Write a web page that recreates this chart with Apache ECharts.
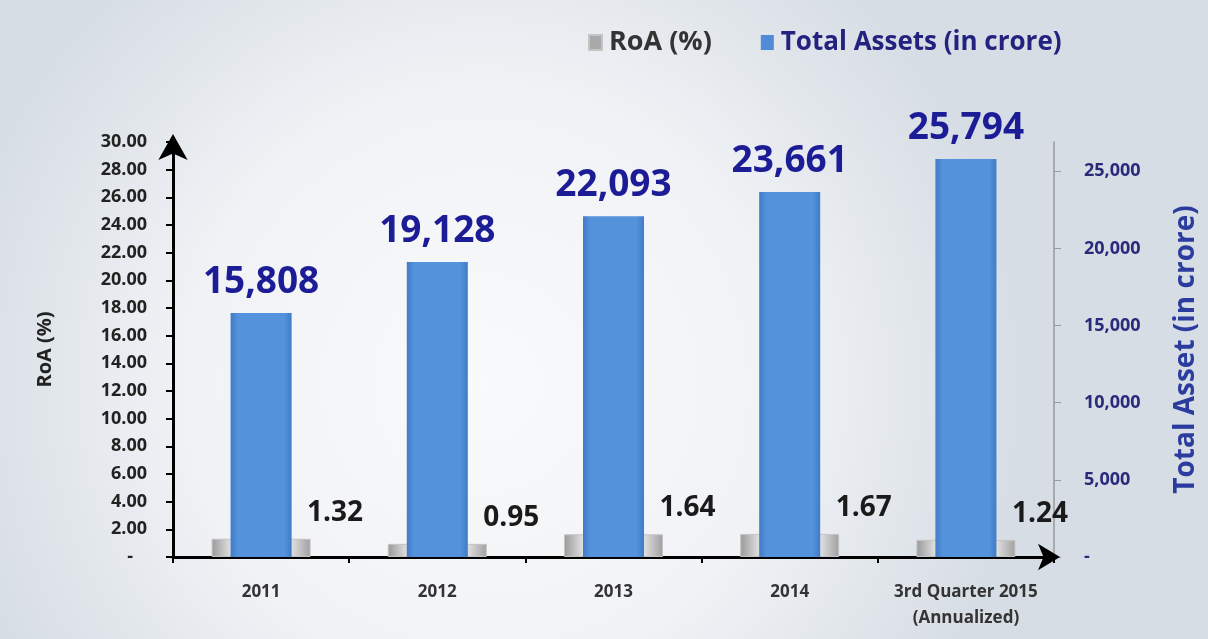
<!DOCTYPE html>
<html>
<head>
<meta charset="utf-8">
<script src="https://cdn.jsdelivr.net/npm/echarts@6/dist/echarts.min.js"></script>
<style>
html,body{margin:0;padding:0;}
#chart{width:1208px;height:639px;}
</style>
</head>
<body>
<div id="chart"></div>
<script>
const categories = ['2011', '2012', '2013', '2014', '3rd Quarter 2015\n(Annualized)'];
const roaValues = [1.32, 0.95, 1.64, 1.67, 1.24];
const assetValues = [15808, 19128, 22093, 23661, 25794];
const roaName = 'RoA (%)';
const assetName = 'Total Assets (in crore)';
const leftAxisName = 'RoA (%)';
const rightAxisName = 'Total Asset (in crore)';

const FONT = '"Open Sans", "Liberation Sans", sans-serif';
const chart = echarts.init(document.getElementById('chart'));

function fmtAsset(v){ return v.toLocaleString('en-US'); }

const option = {
  backgroundColor: {
    type: 'radial', x: 0.4, y: 0.6, r: 0.85,
    colorStops: [
      {offset: 0, color: '#f9fafb'},
      {offset: 0.55, color: '#f0f2f5'},
      {offset: 1, color: '#d6dde4'}
    ]
  },
  animation: false,
  textStyle: {fontFamily: FONT},
  legend: {
    top: 24, left: 583,
    itemWidth: 13, itemHeight: 15, itemGap: 49,
    textStyle: {fontFamily: FONT, fontWeight: 'bold', fontSize: 27, color: '#333', padding: [0, 0, 0, 2]},
    data: [
      {name: roaName, icon: 'rect', itemStyle: {color: '#a9a9a9'}, textStyle: {color: '#333333', fontSize: 27}},
      {name: assetName, icon: 'rect', itemStyle: {color: '#4f8bd6'}, textStyle: {color: '#23237f', fontSize: 26}}
    ]
  },
  grid: {left: 173, right: 148, top: 142, bottom: 82, containLabel: false},
  xAxis: [
    {
      type: 'category', data: categories, boundaryGap: true,
      axisLine: {show: true, lineStyle: {color: '#000', width: 3}, symbol: ['none', 'arrow'], symbolSize: [20, 22], symbolOffset: [0, 6]},
      axisTick: {show: true, interval: 0, length: 6, inside: false, lineStyle: {color: '#000', width: 2}},
      axisLabel: {interval: 0, margin: 22, fontFamily: FONT, fontWeight: 'bold', fontSize: 17, color: '#333', lineHeight: 26}
    },
    {type: 'category', data: categories, show: false}
  ],
  yAxis: [
    {
      type: 'value', min: 0, max: 30, interval: 2, position: 'left',
      name: leftAxisName, nameLocation: 'middle', nameGap: 118, nameRotate: 90,
      nameTextStyle: {fontFamily: FONT, fontWeight: 'bold', fontSize: 20, color: '#222'},
      axisLine: {show: true, lineStyle: {color: '#000', width: 3}, symbol: ['none', 'arrow'], symbolSize: [22, 26], symbolOffset: [0, 8]},
      axisTick: {show: true, length: 7, lineStyle: {color: '#000', width: 2}},
      splitLine: {show: false},
      axisLabel: {margin: 26, fontFamily: FONT, fontWeight: 'bold', fontSize: 18, color: '#222',
        formatter: v => v === 0 ? '-   ' : v.toFixed(2)}
    },
    {
      type: 'value', min: 0, max: 26900, interval: 5000, position: 'right',
      name: rightAxisName, nameLocation: 'middle', nameGap: 118, nameRotate: 90,
      nameTextStyle: {fontFamily: FONT, fontWeight: 'bold', fontSize: 28, color: '#2b3c9e'},
      axisLine: {show: true, lineStyle: {color: '#999', width: 1.5}},
      axisTick: {show: true, length: 7, lineStyle: {color: '#999'}},
      splitLine: {show: false},
      axisLabel: {margin: 30, showMaxLabel: false, fontFamily: FONT, fontWeight: 'bold', fontSize: 18, color: '#2a2a7c',
        formatter: v => v === 0 ? '-' : fmtAsset(v)}
    }
  ],
  series: [
    {
      name: roaName, type: 'bar', xAxisIndex: 0, yAxisIndex: 0,
      data: roaValues, barWidth: 99, z: 2,
      itemStyle: {
        color: {type: 'linear', x: 0, y: 0, x2: 1, y2: 0, colorStops: [
          {offset: 0, color: '#999999'}, {offset: 0.18, color: '#dcdcdc'},
          {offset: 0.5, color: '#f0f0f0'}, {offset: 0.82, color: '#dcdcdc'}, {offset: 1, color: '#a0a0a0'}]},
        borderColor: '#c4c4c4', borderWidth: 1
      },
      label: {show: true, position: 'top', distance: 12, offset: [74, 0],
        fontFamily: FONT, fontWeight: 'bold', fontSize: 28, color: '#1a1a1a',
        formatter: p => p.value.toFixed(2)}
    },
    {
      name: assetName, type: 'bar', xAxisIndex: 1, yAxisIndex: 1,
      data: assetValues, barWidth: 61, z: 3,
      itemStyle: {
        color: {type: 'linear', x: 0, y: 0, x2: 1, y2: 0, colorStops: [
          {offset: 0, color: '#3f7bc6'}, {offset: 0.12, color: '#5592dc'},
          {offset: 0.88, color: '#5592dc'}, {offset: 1, color: '#3f7bc6'}]}
      },
      label: {show: true, position: 'top', distance: 12,
        fontFamily: FONT, fontWeight: 'bold', fontSize: 37, color: '#1c1c96',
        formatter: p => fmtAsset(p.value)}
    }
  ]
};
chart.setOption(option);
</script>
</body>
</html>
